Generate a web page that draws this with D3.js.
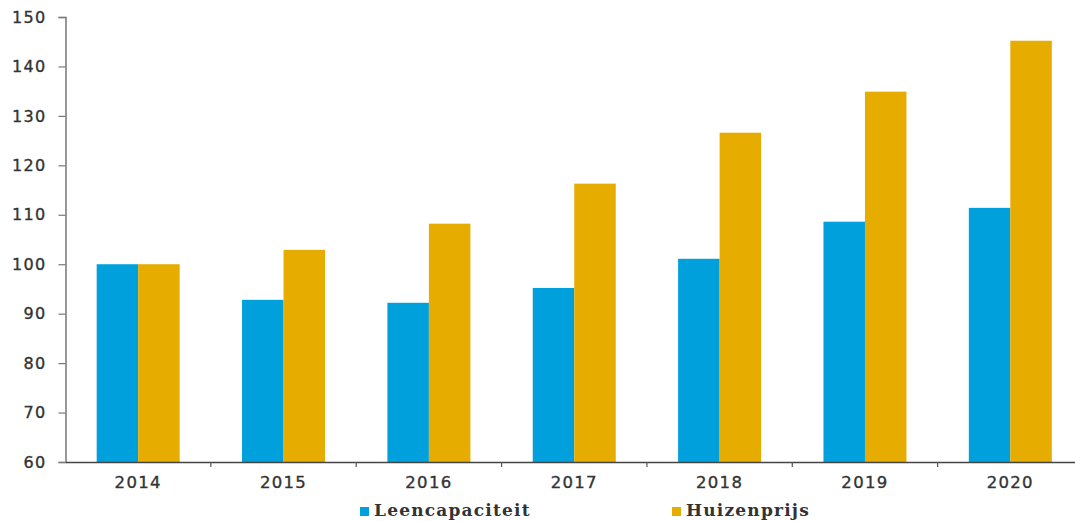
<!DOCTYPE html>
<html><head><meta charset="utf-8">
<script src="https://cdn.jsdelivr.net/npm/d3@7"></script>
<style>body{margin:0;background:#fff}svg{display:block}</style>
</head><body>
<script>
const categories = ["2014","2015","2016","2017","2018","2019","2020"];
const leencapaciteit = [100, 92.8, 92.2, 95.2, 101.1, 108.6, 111.4];
const huizenprijs = [100, 102.9, 108.2, 116.3, 126.6, 134.9, 145.2];
const seriesNames = ["Leencapaciteit","Huizenprijs"];
const yTicks = [60,70,80,90,100,110,120,130,140,150];

const W=1075,H=521;
const svg=d3.select("body").append("svg").attr("width",W).attr("height",H);
const x=d3.scaleBand().domain(categories).range([65.5,1083]).padding(0);
const y=d3.scaleLinear().domain([60,150]).range([462,17]);
const colors=["#00A0DC","#E6AC00"];
const barW=41.5;

const series=[leencapaciteit,huizenprijs];
series.forEach((vals,si)=>{
  svg.append("g").selectAll("rect").data(categories).join("rect")
    .attr("x",d=>x(d)+x.bandwidth()/2+(si===0?-barW:0))
    .attr("width",barW)
    .attr("y",(d,i)=>y(vals[i]))
    .attr("height",(d,i)=>y(60)-y(vals[i]))
    .attr("fill",colors[si]);
});

// Y axis
const ya=svg.append("g").attr("transform","translate(65.5,0)")
  .call(d3.axisLeft(y).tickValues(yTicks).tickSize(7).tickPadding(12));
ya.select(".domain").attr("stroke","#777").attr("stroke-width",1.5);
ya.selectAll(".tick line").attr("stroke","#777").attr("stroke-width",1.2);
ya.selectAll("text").attr("font-family","DejaVu Sans, sans-serif").attr("font-size",16)
  .attr("letter-spacing",1.3).attr("fill","#333").attr("stroke","#333").attr("stroke-width",0.35);

// X axis
const xa=svg.append("g").attr("transform","translate(0,462)")
  .call(d3.axisBottom(x).tickSize(0).tickPadding(14));
xa.select(".domain").attr("stroke","#444").attr("stroke-width",1.5);
xa.selectAll("text").attr("font-family","DejaVu Sans, sans-serif").attr("font-size",16.5)
  .attr("letter-spacing",1.3).attr("fill","#333").attr("stroke","#333").attr("stroke-width",0.35);
// boundary ticks
svg.append("g").selectAll("line").data(categories.slice(1)).join("line")
  .attr("x1",d=>x(d)).attr("x2",d=>x(d)).attr("y1",462).attr("y2",467)
  .attr("stroke","#555").attr("stroke-width",1.2);

// Legend
const legX=[360,672];
const leg=svg.append("g");
seriesNames.forEach((n,i)=>{
  leg.append("rect").attr("x",legX[i]).attr("y",507).attr("width",9).attr("height",9).attr("fill",colors[i]);
  leg.append("text").attr("x",legX[i]+14).attr("y",516).text(n)
    .attr("font-family","DejaVu Serif, serif").attr("font-weight","bold").attr("font-size",17)
    .attr("letter-spacing",1.2).attr("fill","#333");
});
</script>
</body></html>
